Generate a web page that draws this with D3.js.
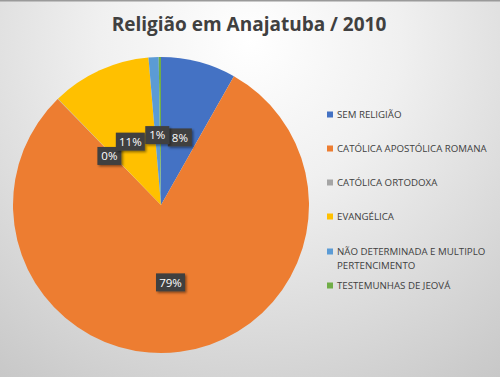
<!DOCTYPE html>
<html><head><meta charset="utf-8">
<script src="https://cdn.jsdelivr.net/npm/d3@7"></script>
<style>html,body{margin:0;padding:0;}svg{display:block;}</style>
</head><body>
<script>
const categories = ["SEM RELIGIÃO","CATÓLICA APOSTÓLICA ROMANA","CATÓLICA ORTODOXA","EVANGÉLICA","NÃO DETERMINADA E MULTIPLO PERTENCIMENTO","TESTEMUNHAS DE JEOVÁ"];
const values = [8.2, 79.5, 0.05, 10.9, 1.1, 0.25];
const pctLabels = ["8%","79%","0%","11%","1%",null];
const colors = ["#4472C4","#ED7D31","#A5A5A5","#FFC000","#5B9BD5","#70AD47"];
const title = "Religião em Anajatuba / 2010";

const W=500,H=377;
const svg=d3.select("body").append("svg").attr("width",W).attr("height",H);
const defs=svg.append("defs");
const rg=defs.append("radialGradient").attr("id","bg").attr("gradientUnits","userSpaceOnUse")
  .attr("cx",250).attr("cy",40).attr("r",430);
rg.append("stop").attr("offset",0).attr("stop-color","#ffffff");
rg.append("stop").attr("offset",0.35).attr("stop-color","#f0f0f0");
rg.append("stop").attr("offset",1).attr("stop-color","#c6c6c6");
const f=defs.append("filter").attr("id","sh").attr("x","-30%").attr("y","-30%").attr("width","160%").attr("height","160%");
f.append("feDropShadow").attr("dx",1.5).attr("dy",1.5).attr("stdDeviation",1.2).attr("flood-color","#000").attr("flood-opacity",0.45);

svg.append("rect").attr("width",W).attr("height",H).attr("fill","url(#bg)");
svg.append("rect").attr("width",W).attr("height",1.5).attr("fill","#9a9a9a");

svg.append("text").attr("x",249).attr("y",31).attr("text-anchor","middle")
  .attr("font-family","Open Sans, sans-serif").attr("font-weight","bold").attr("font-size",19)
  .attr("fill","#404040").text(title);

const cx=161,cy=205,R=148;
const g=svg.append("g").attr("transform",`translate(${cx},${cy})`);
const pie=d3.pie().sort(null).value(d=>d);
const arcs=pie(values);
const arc=d3.arc().innerRadius(0).outerRadius(R);
g.selectAll("path.s").data(arcs).enter().append("path").attr("class","s")
  .attr("d",arc).attr("fill",(d,i)=>colors[i]);

const larc=d3.arc().innerRadius(74).outerRadius(74);
const order=[0,1,2,3,4];
const lg=g.append("g").attr("font-family","Open Sans, sans-serif").attr("font-size",11.5);
order.forEach(i=>{
  if(!pctLabels[i])return;
  const [x,y]=larc.centroid(arcs[i]);
  const w=pctLabels[i].length>2?29:24, h=18;
  const gg=lg.append("g").attr("transform",`translate(${x},${y+4})`);
  gg.append("rect").attr("x",-w/2).attr("y",-h/2).attr("width",w).attr("height",h)
    .attr("fill","#404040").attr("filter","url(#sh)");
  gg.append("text").attr("text-anchor","middle").attr("dy","0.36em").attr("fill","#fff").text(pctLabels[i]);
});

const legY=[115,149,183,217,252,286];
const leg=svg.append("g").attr("font-family","Open Sans, sans-serif").attr("font-size",9.7).attr("fill","#404040");
categories.forEach((c,i)=>{
  leg.append("rect").attr("x",327).attr("y",legY[i]-3.5).attr("width",6).attr("height",6).attr("fill",colors[i]);
  const t=leg.append("text").attr("x",337).attr("y",legY[i]).attr("dy","0.35em");
  if(i===4){
    t.append("tspan").attr("x",337).text("NÃO DETERMINADA E MULTIPLO");
    t.append("tspan").attr("x",337).attr("dy","1.45em").text("PERTENCIMENTO");
  } else t.text(c);
});
</script>
</body></html>
